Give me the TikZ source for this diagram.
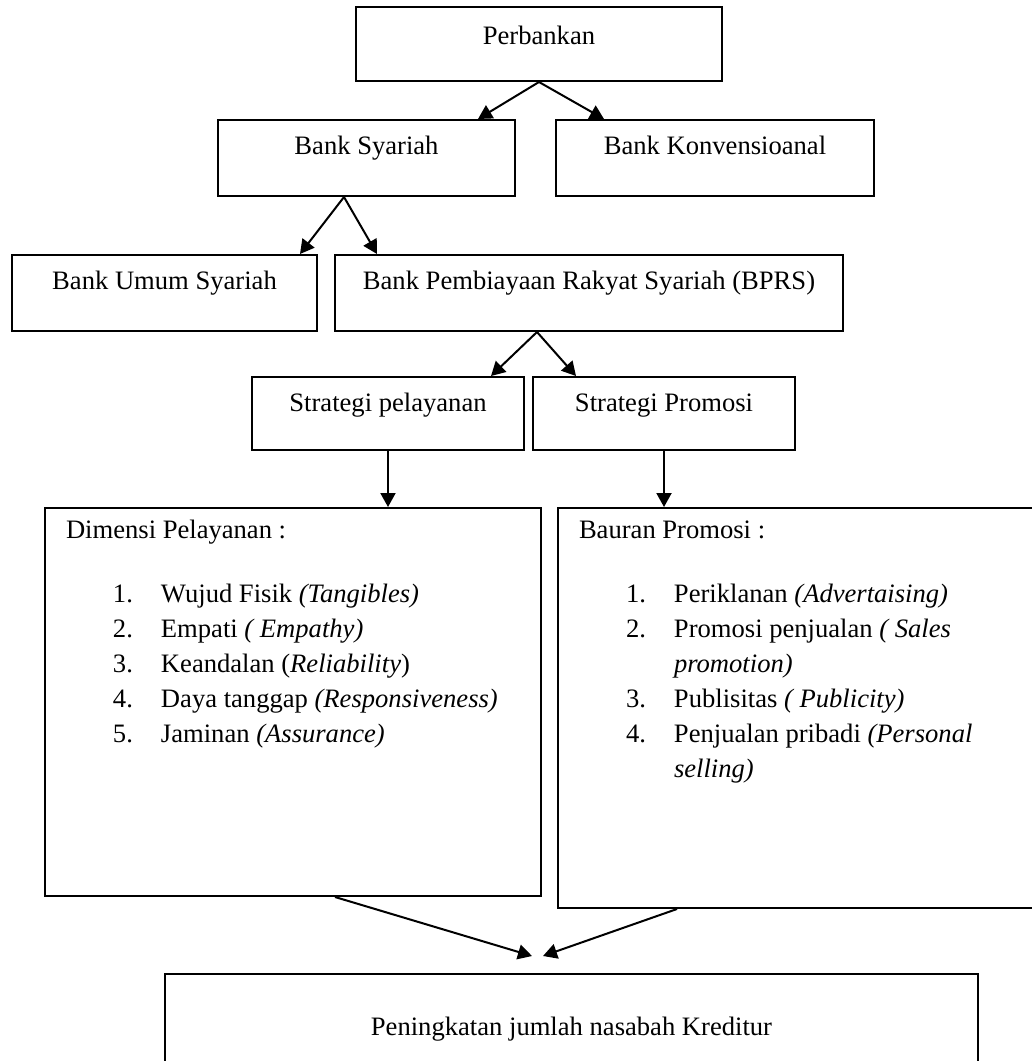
\documentclass[tikz,border=0pt]{standalone}
\usepackage{fontspec}
\setmainfont{Liberation Serif}
\usetikzlibrary{arrows.meta}
\newcommand{\butir}[1]{\hspace*{34pt}\makebox[24pt][l]{#1}}
\newcommand{\lanjut}{\hspace*{58pt}}

\begin{document}
\begin{tikzpicture}[x=0.5pt,y=-0.5pt,
  font=\fontsize{13.3}{17.5}\selectfont,
  kotak/.style={draw,line width=1pt,anchor=north,inner sep=0pt,text height=17pt},
  daftar/.style={draw,line width=1pt,anchor=north west,inner sep=0pt},
  panah/.style={line width=1pt,-{Triangle[length=7pt,width=7.5pt]}}]
  \path[use as bounding box,clip] (0,0) rectangle (1032,1061);
  \node[kotak,minimum width=183pt,text height=18.5pt,text depth=18.5pt] (bank) at (539,6) {Perbankan};
  \node[kotak,minimum width=148.5pt,text depth=21pt] (syariah) at (366.5,119) {Bank Syariah};
  \node[kotak,minimum width=159pt,text depth=21pt] (konv) at (715,119) {Bank Konvensioanal};
  \node[kotak,minimum width=152.5pt,text depth=21pt] (bus) at (164.5,254) {Bank Umum Syariah};
  \node[kotak,minimum width=254pt,text depth=21pt] (bprs) at (589,254) {Bank Pembiayaan Rakyat Syariah (BPRS)};
  \node[kotak,minimum width=136pt,text depth=19.5pt] (pelayanan) at (388,376) {Strategi pelayanan};
  \node[kotak,minimum width=131pt,text depth=19.5pt] (promosi) at (664,376) {Strategi Promosi};
  \node[daftar] (dimensi) at (44,507) {\begin{minipage}[t][194pt][t]{248pt}
    \rule{0pt}{15pt}\hspace*{10.5pt}Dimensi Pelayanan :\\[14.5pt]
    \butir{1.}Wujud Fisik \textit{(Tangibles)}\\
    \butir{2.}Empati \textit{( Empathy)}\\
    \butir{3.}Keandalan (\textit{Reliability})\\
    \butir{4.}Daya tanggap \textit{(Responsiveness)}\\
    \butir{5.}Jaminan \textit{(Assurance)}
  \end{minipage}};
  \node[daftar] (bauran) at (557,507) {\begin{minipage}[t][200pt][t]{241.5pt}
    \rule{0pt}{15pt}\hspace*{10.5pt}Bauran Promosi :\\[14.5pt]
    \butir{1.}Periklanan \textit{(Advertaising)}\\
    \butir{2.}Promosi penjualan \textit{( Sales}\\
    \lanjut\textit{promotion)}\\
    \butir{3.}Publisitas \textit{( Publicity)}\\
    \butir{4.}Penjualan pribadi \textit{(Personal}\\
    \lanjut\textit{selling)}
  \end{minipage}};
  \node[kotak,minimum width=406.5pt,text height=30.5pt,text depth=20.5pt] (nasabah) at (571.5,973) {Peningkatan jumlah nasabah Kreditur};
  \coordinate (temu) at (537,956);
  \draw[panah] (bank.south) -- ([xshift=-19pt]syariah.north east);
  \draw[panah] (bank.south) -- ([xshift=24.5pt]konv.north west);
  \draw[panah] ([xshift=-11.25pt]syariah.south) -- ([xshift=-9pt]bus.north east);
  \draw[panah] ([xshift=-11.25pt]syariah.south) -- ([xshift=21.5pt]bprs.north west);
  \draw[panah] ([xshift=-26pt]bprs.south) -- ([xshift=-17pt]pelayanan.north east);
  \draw[panah] ([xshift=-26pt]bprs.south) -- ([xshift=22pt]promosi.north west);
  \draw[panah] (pelayanan.south) -- (pelayanan.south |- dimensi.north);
  \draw[panah] (promosi.south) -- (promosi.south |- bauran.north);
  \draw[panah] ([xshift=145.5pt]dimensi.south west) -- ([xshift=-2.5pt]temu);
  \draw[panah] ([xshift=60pt]bauran.south west) -- ([xshift=3pt]temu);
\end{tikzpicture}
\end{document}
